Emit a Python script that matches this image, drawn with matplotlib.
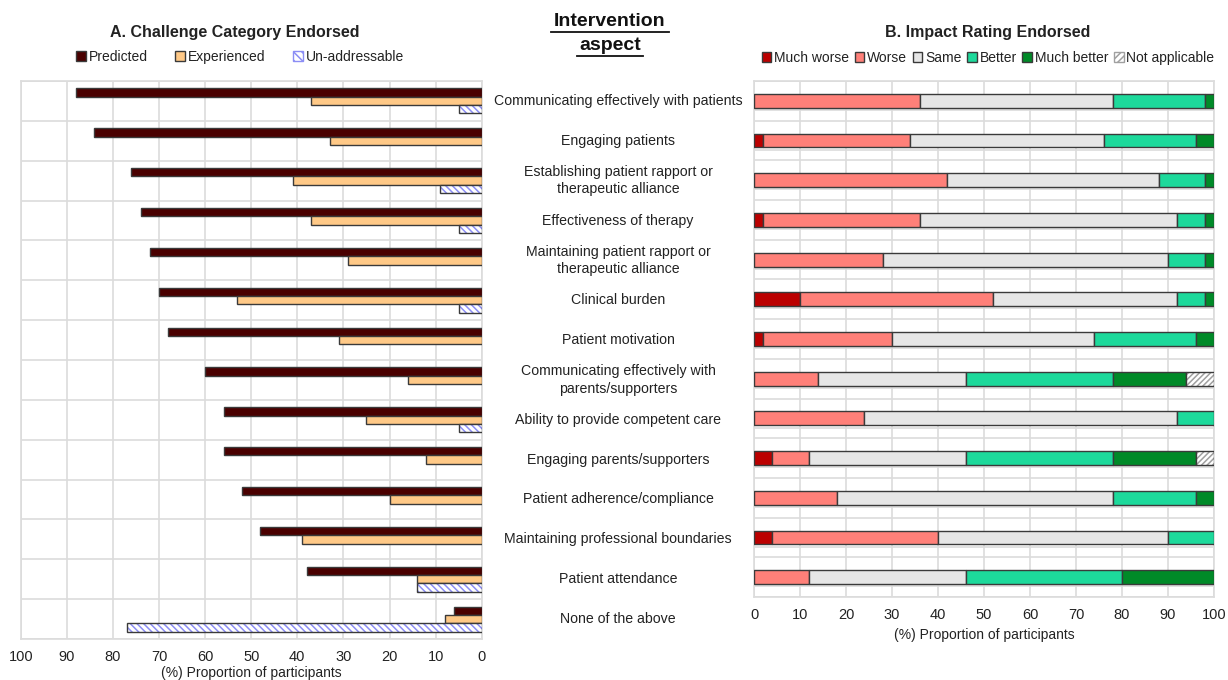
import numpy as np
import matplotlib
matplotlib.use("Agg")
import matplotlib.pyplot as plt
from matplotlib.patches import Patch
from matplotlib.lines import Line2D
from matplotlib.transforms import blended_transform_factory

plt.rcParams['font.family'] = ['Liberation Sans', 'DejaVu Sans']
plt.rcParams['hatch.linewidth'] = 1.1

categories = [
    "Communicating effectively with patients",
    "Engaging patients",
    "Establishing patient rapport or\ntherapeutic alliance",
    "Effectiveness of therapy",
    "Maintaining patient rapport or\ntherapeutic alliance",
    "Clinical burden",
    "Patient motivation",
    "Communicating effectively with\nparents/supporters",
    "Ability to provide competent care",
    "Engaging parents/supporters",
    "Patient adherence/compliance",
    "Maintaining professional boundaries",
    "Patient attendance",
    "None of the above",
]

# Panel A
predicted = [88, 84, 76, 74, 72, 70, 68, 60, 56, 56, 52, 48, 38, 6]
experienced = [37, 33, 41, 37, 29, 53, 31, 16, 25, 12, 20, 39, 14, 8]
unaddressable = [5, 0, 9, 5, 0, 5, 0, 0, 5, 0, 0, 0, 14, 77]

# Panel B (first 13 categories)
much_worse = [0, 2, 0, 2, 0, 10, 2, 0, 0, 4, 0, 4, 0]
worse = [36, 32, 42, 34, 28, 42, 28, 14, 24, 8, 18, 36, 12]
same = [42, 42, 46, 56, 62, 40, 44, 32, 68, 34, 60, 50, 34]
better = [20, 20, 10, 6, 8, 6, 22, 32, 8, 32, 18, 10, 34]
much_better = [2, 4, 2, 2, 2, 2, 4, 16, 0, 18, 4, 0, 20]
not_applicable = [0, 0, 0, 0, 0, 0, 0, 6, 0, 4, 0, 0, 0]

ticks = [0, 10, 20, 30, 40, 50, 60, 70, 80, 90, 100]

C_PRED = "#4a0000"
C_EXP = "#ffc987"
C_UN_HATCH = "#8c8ef5"
C_MW = "#bb0000"
C_W = "#ff8079"
C_S = "#e6e6e6"
C_B = "#1dd99b"
C_MB = "#008a28"
C_NA_HATCH = "#a0a0a0"
EDGE = "#3a3a3a"
GRID = "#dcdcdc"

W, H = 1228, 680
fig = plt.figure(figsize=(12.28, 6.8), dpi=100)

def fx(px):
    return px / W

def fy(py):
    return 1 - py / H

axL = fig.add_axes([fx(20.7), fy(639), fx(481.7 - 20.7), (639 - 81) / H])
axR = fig.add_axes([fx(754), fy(597), fx(1214 - 754), (597 - 81) / H])

# ---------- Panel A ----------
nA = len(categories)
y = np.arange(nA)
bh = 0.21

def barh_nz(ax, ypos, vals, left=None, **kw):
    vals = np.asarray(vals, dtype=float)
    ypos = np.asarray(ypos, dtype=float)
    m = vals > 0
    if left is None:
        ax.barh(ypos[m], vals[m], **kw)
    else:
        ax.barh(ypos[m], vals[m], left=np.asarray(left, dtype=float)[m], **kw)

barh_nz(axL, y - bh, predicted, height=bh, color=C_PRED, edgecolor=EDGE, linewidth=1, zorder=3)
barh_nz(axL, y, experienced, height=bh, color=C_EXP, edgecolor=EDGE, linewidth=1, zorder=3)
barh_nz(axL, y + bh, unaddressable, height=bh, color="white", edgecolor=C_UN_HATCH,
        hatch="\\\\\\\\\\", linewidth=0, zorder=3)
barh_nz(axL, y + bh, unaddressable, height=bh, fill=False, edgecolor=EDGE, linewidth=1, zorder=4)

axL.set_xlim(100, 0)
axL.set_ylim(nA - 0.5, -0.5)
axL.set_xticks(ticks)
axL.set_xticklabels([str(t) for t in ticks], fontsize=10.5, color="#222222")
axL.set_yticks([])
axL.tick_params(axis='x', length=0, pad=8)
for xv in ticks:
    axL.axvline(xv, color=GRID, lw=1.2, zorder=1)
for b in np.arange(-0.5, nA + 0.5, 1):
    axL.axhline(b, color=GRID, lw=1.2, zorder=1)
for s in axL.spines.values():
    s.set_color(GRID)
    s.set_linewidth(1.2)
axL.set_xlabel("(%) Proportion of participants", fontsize=10, color="#222222", labelpad=1)

# ---------- Panel B ----------
nB = len(worse)
yb = np.arange(nB)
bhB = 0.35
left = np.zeros(nB)
seriesB = [
    (much_worse, C_MW),
    (worse, C_W),
    (same, C_S),
    (better, C_B),
    (much_better, C_MB),
]
for vals, col in seriesB:
    barh_nz(axR, yb, vals, left=left, height=bhB, color=col, edgecolor=EDGE, linewidth=1, zorder=3)
    left = left + np.asarray(vals, dtype=float)
barh_nz(axR, yb, not_applicable, left=left, height=bhB, color="white", edgecolor=C_NA_HATCH,
        hatch="//////", linewidth=0, zorder=3)
barh_nz(axR, yb, not_applicable, left=left, height=bhB, fill=False, edgecolor=EDGE, linewidth=1, zorder=4)

axR.set_xlim(0, 100)
axR.set_ylim(nB - 0.5, -0.5)
axR.set_xticks(ticks)
axR.set_xticklabels([str(t) for t in ticks], fontsize=10.5, color="#222222")
axR.set_yticks([])
axR.tick_params(axis='x', length=0, pad=8)
for xv in ticks:
    axR.axvline(xv, color=GRID, lw=1.2, zorder=1)
for b in np.arange(-0.5, nB + 0.5, 1):
    axR.axhline(b, color=GRID, lw=1.2, zorder=1)
for c in yb:
    axR.axhline(c + 0.23, color=GRID, lw=1.2, zorder=1)
for s in axR.spines.values():
    s.set_color(GRID)
    s.set_linewidth(1.2)
axR.set_xlabel("(%) Proportion of participants", fontsize=10, color="#222222", labelpad=4)

# ---------- Middle labels ----------
tr = blended_transform_factory(fig.transFigure, axL.transData)
for i, lab in enumerate(categories):
    axL.text(fx(618), i, lab, transform=tr, ha="center", va="center",
             fontsize=10.2, color="#222222", linespacing=1.3, clip_on=False)

fig.text(fx(610), fy(22), "Intervention", ha="center", va="center", fontsize=14,
         fontweight="bold", color="#111111")
fig.text(fx(610), fy(46), "aspect", ha="center", va="center", fontsize=14,
         fontweight="bold", color="#111111")
fig.add_artist(Line2D([fx(551), fx(669)], [fy(32), fy(32)], color="#111111", lw=1.3))
fig.add_artist(Line2D([fx(577), fx(643)], [fy(56), fy(56)], color="#111111", lw=1.3))

# ---------- Titles ----------
fig.text(fx(235), fy(32), "A. Challenge Category Endorsed", ha="center", va="center",
         fontsize=11.5, fontweight="bold", color="#222222")
fig.text(fx(988), fy(32), "B. Impact Rating Endorsed", ha="center", va="center",
         fontsize=11.5, fontweight="bold", color="#222222")

# ---------- Legends ----------
hA = [Patch(facecolor=C_PRED, edgecolor=EDGE, label="Predicted"),
      Patch(facecolor=C_EXP, edgecolor=EDGE, label="Experienced"),
      Patch(facecolor="white", edgecolor=C_UN_HATCH, hatch="\\\\\\\\", label="Un-addressable")]
legA = fig.legend(handles=hA, loc="center", bbox_to_anchor=(fx(240), fy(57)), ncol=3,
                  frameon=False, fontsize=10, handlelength=0.7, handleheight=0.7,
                  handletextpad=0.2, columnspacing=2.0, borderpad=0)
for t in legA.get_texts():
    t.set_color("#222222")

hB = [Patch(facecolor=C_MW, edgecolor=EDGE, label="Much worse"),
      Patch(facecolor=C_W, edgecolor=EDGE, label="Worse"),
      Patch(facecolor=C_S, edgecolor=EDGE, label="Same"),
      Patch(facecolor=C_B, edgecolor=EDGE, label="Better"),
      Patch(facecolor=C_MB, edgecolor=EDGE, label="Much better"),
      Patch(facecolor="white", edgecolor=C_NA_HATCH, hatch="/////", label="Not applicable")]
legB = fig.legend(handles=hB, loc="center", bbox_to_anchor=(fx(988), fy(58)), ncol=6,
                  frameon=False, fontsize=10, handlelength=0.7, handleheight=0.7,
                  handletextpad=0.2, columnspacing=0.4, borderpad=0)
for t in legB.get_texts():
    t.set_color("#222222")

fig.savefig("out.png", dpi=100)
